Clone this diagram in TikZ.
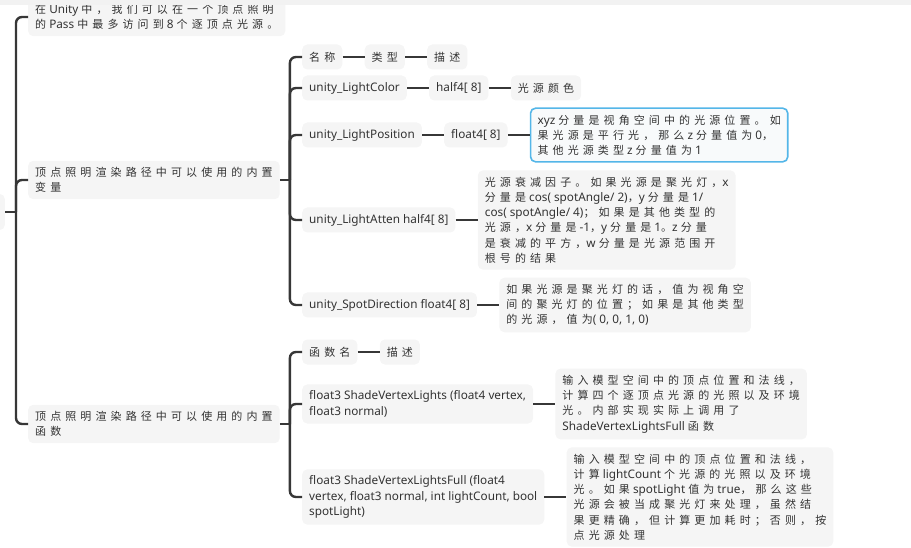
\documentclass[tikz,border=0pt]{standalone}
\usepackage{fontspec}
\setmainfont{Noto Sans}[Scale=1.07]
\newfontfamily\latinfont{Noto Sans}[Scale=1.07]
\newfontfamily\hanfont{Noto Sans CJK SC}
\usetikzlibrary{positioning}
\definecolor{ink}{RGB}{51,51,51}
\definecolor{wire}{RGB}{55,55,55}
\definecolor{topicfill}{RGB}{245,245,245}
\definecolor{pickblue}{RGB}{84,182,232}
\definecolor{pickfill}{RGB}{248,250,251}
\definecolor{chrome}{RGB}{242,242,242}
% Chinese runs in the CJK face, with wider tracking
\XeTeXinterchartokenstate=1
\newXeTeXintercharclass\hanclass
\newcount\hanchar
\hanchar="4E00
\loop\ifnum\hanchar<"A000
  \XeTeXcharclass\hanchar=\hanclass
  \advance\hanchar by 1
\repeat
\XeTeXcharclass"3002=\hanclass
\XeTeXcharclass"FF0C=\hanclass
\XeTeXcharclass"FF1B=\hanclass
\XeTeXinterchartoks\hanclass\hanclass={\hskip4.1pt\relax}
\XeTeXinterchartoks 0 \hanclass={\hanfont}
\XeTeXinterchartoks 4095 \hanclass={\hanfont}
\XeTeXinterchartoks\hanclass 0={\latinfont}
\XeTeXinterchartoks\hanclass 4095={\latinfont}

\begin{document}
\begin{tikzpicture}[x=1pt, y=-1pt,
  node distance=22pt,
  topic/.style={rectangle, rounded corners=5pt, fill=topicfill, text=ink,
    font=\fontsize{11}{15.2}\selectfont, align=left,
    inner xsep=7pt, inner ysep=6.5pt, minimum height=25pt},
  picked/.style={topic, fill=pickfill, draw=pickblue, line width=1.6pt},
  link/.style={draw=wire, line width=2.4pt},
  elbow/.style={link, rounded corners=6pt}
]
\useasboundingbox (0,0) rectangle (911,548);
\clip (0,0) rectangle (911,548);

% first level
\node[topic, anchor=east, minimum width=40pt, minimum height=36pt] (root) at (5,212) {};
\node[topic, anchor=west] (pass) at (28,17) {在 Unity 中，我们可以在一个顶点照明\\的 Pass 中最多访问到 8 个逐顶点光源。};
\node[topic, anchor=west] (vars) at (28,180) {顶点照明渲染路径中可以使用的内置\\变量};
\node[topic, anchor=west] (funcs) at (28,424) {顶点照明渲染路径中可以使用的内置\\函数};

% built-in variables
\node[topic, anchor=west] (head) at (302,57) {名称};
\node[topic, right=of head] (headtype) {类型};
\node[topic, right=of headtype] (headdesc) {描述};
\node[topic, anchor=west] (color) at (302,88) {unity\_LightColor};
\node[topic, right=of color] (colortype) {half4[ 8]};
\node[topic, right=of colortype] (colordesc) {光源颜色};
\node[topic, anchor=west] (pos) at (302,135) {unity\_LightPosition};
\node[topic, right=of pos] (postype) {float4[ 8]};
\node[picked, right=of postype] (posdesc) {xyz 分量是视角空间中的光源位置。如\\果光源是平行光，那么 z 分量值为 0，\\其他光源类型 z 分量值为 1};
\node[topic, anchor=west] (atten) at (302,220) {unity\_LightAtten half4[ 8]};
\node[topic, right=of atten] (attendesc) {光源衰减因子。如果光源是聚光灯，x\\分量是 cos( spotAngle/ 2)，y 分量是 1/\\cos( spotAngle/ 4)；如果是其他类型的\\光源，x 分量是 -1，y 分量是 1。z 分量\\是衰减的平方，w 分量是光源范围开\\根号的结果};
\node[topic, anchor=west] (spot) at (302,305) {unity\_SpotDirection float4[ 8]};
\node[topic, right=of spot] (spotdesc) {如果光源是聚光灯的话，值为视角空\\间的聚光灯的位置；如果是其他类型\\的光源，值为( 0, 0, 1, 0)};

% built-in functions
\node[topic, anchor=west] (fhead) at (302,352) {函数名};
\node[topic, right=of fhead] (fheaddesc) {描述};
\node[topic, anchor=west] (shade) at (302,404) {float3 ShadeVertexLights (float4 vertex,\\float3 normal)};
\node[topic, right=of shade] (shadedesc) {输入模型空间中的顶点位置和法线，\\计算四个逐顶点光源的光照以及环境\\光。内部实现实际上调用了\\ShadeVertexLightsFull 函数};
\node[topic, anchor=west] (full) at (302,497) {float3 ShadeVertexLightsFull (float4\\vertex, float3 normal, int lightCount, bool\\spotLight)};
\node[topic, right=of full] (fulldesc) {输入模型空间中的顶点位置和法线，\\计算 lightCount 个光源的光照以及环境\\光。如果 spotLight 值为 true，那么这些\\光源会被当成聚光灯来处理，虽然结\\果更精确，但计算更加耗时；否则，按\\点光源处理};

% connectors
\coordinate (rootbus) at (16,212);
\draw[link] (root.east) -- (rootbus);
\foreach \kid in {pass,vars,funcs} \draw[elbow] (rootbus) |- (\kid.west);

\coordinate (varsbus) at ([xshift=10pt]vars.east);
\draw[link] (vars.east) -- (varsbus);
\foreach \kid in {head,color,pos,atten,spot} \draw[elbow] (varsbus) |- (\kid.west);
\draw[link] (head) -- (headtype);
\draw[link] (headtype) -- (headdesc);
\draw[link] (color) -- (colortype);
\draw[link] (colortype) -- (colordesc);
\draw[link] (pos) -- (postype);
\draw[link] (postype) -- (posdesc);
\draw[link] (atten) -- (attendesc);
\draw[link] (spot) -- (spotdesc);

\coordinate (funcsbus) at ([xshift=10pt]funcs.east);
\draw[link] (funcs.east) -- (funcsbus);
\foreach \kid in {fhead,shade,full} \draw[elbow] (funcsbus) |- (\kid.west);
\draw[link] (fhead) -- (fheaddesc);
\draw[link] (shade) -- (shadedesc);
\draw[link] (full) -- (fulldesc);

% window edge
\fill[chrome] (0,0) rectangle (911,5);
\end{tikzpicture}
\end{document}
